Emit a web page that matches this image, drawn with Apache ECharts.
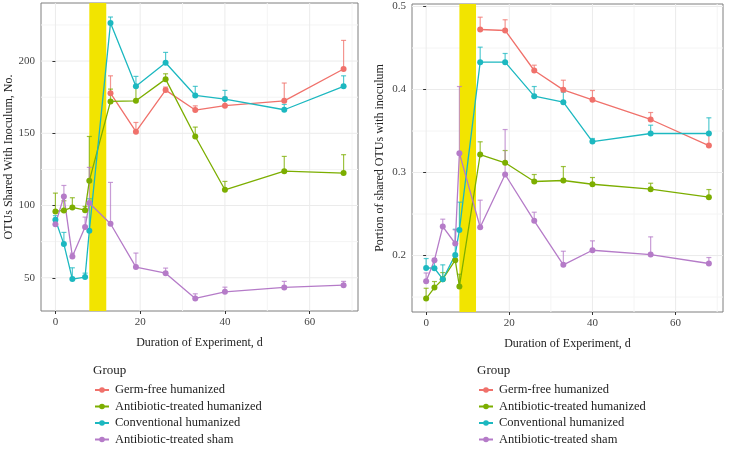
<!DOCTYPE html>
<html>
<head>
<meta charset="utf-8">
<script src="https://cdn.jsdelivr.net/npm/echarts@6/dist/echarts.min.js"></script>
<style>
html, body { margin: 0; padding: 0; background: #fff; }
#chart-dom { width: 733px; height: 454px; }
</style>
</head>
<body>
<div id="chart-dom"></div>
<script>
const days = [0, 2, 4, 7, 8, 13, 19, 26, 33, 40, 54, 68]
const groups = ['Germ-free humanized', 'Antibiotic-treated humanized', 'Conventional humanized', 'Antibiotic-treated sham']
const colors = ['#F0716B', '#7CAE00', '#1CB8C0', '#B57BC8']

// shared OTUs, count (mean and mean + SE)
const germFreeCount = [null, null, null, null, null, 177.8, 151.1, 179.9, 166.1, 169.1, 172.5, 194.5]
const germFreeCountTop = [null, null, null, null, null, 189.8, 157.5, 182, 169, 175, 184.8, 214.3]
const abxHumCount = [95.9, 96.6, 98.7, 96.8, 117.1, 172.1, 172.5, 187.5, 147.8, 110.9, 123.8, 122.5]
const abxHumCountTop = [108.6, 103.3, 105.4, 99.4, 147.8, 180.6, 182, 191.2, 154.3, 116.7, 134, 135.2]
const convCount = [90.2, 73.3, 49.1, 50.5, 82.5, 226.3, 182.5, 198.8, 176.2, 173.7, 166.3, 182.5]
const convCountTop = [93, 81.4, 56.9, 53.2, 104.7, 230.5, 189.4, 206, 182.5, 179.7, 170, 189.8]
const shamCount = [87.1, 106.3, 64.8, 85.1, 101.7, 87.4, 57.4, 53.2, 35.7, 40.3, 43.3, 44.9]
const shamCountTop = [90, 113.9, 67, 92, 126.4, 116, 67.1, 56.7, 38.9, 43.5, 47.5, 47.5]

// portion of shared OTUs
const germFreePortion = [null, null, null, null, null, 0.4723, 0.4711, 0.4229, 0.3996, 0.3876, 0.3639, 0.3325]
const germFreePortionTop = [null, null, null, null, null, 0.4871, 0.484, 0.4293, 0.4112, 0.3988, 0.3723, 0.3474]
const abxHumPortion = [0.1482, 0.1614, 0.1715, 0.1944, 0.1627, 0.3217, 0.3117, 0.2892, 0.2904, 0.2859, 0.2799, 0.2703]
const abxHumPortionTop = [0.1606, 0.1687, 0.1795, 0.1988, 0.1775, 0.337, 0.3265, 0.2976, 0.3072, 0.294, 0.2871, 0.2795]
const convPortion = [0.1851, 0.1847, 0.1715, 0.2008, 0.2309, 0.4329, 0.4329, 0.392, 0.3847, 0.3373, 0.347, 0.347]
const convPortionTop = [0.1964, 0.194, 0.1888, 0.2317, 0.2643, 0.451, 0.4434, 0.4036, 0.3968, 0.341, 0.357, 0.3659]
const shamPortion = [0.1691, 0.1944, 0.2349, 0.2145, 0.3233, 0.2341, 0.2976, 0.2418, 0.1888, 0.2064, 0.2012, 0.1904]
const shamPortionTop = [0.179, 0.1964, 0.2438, 0.231, 0.4036, 0.2667, 0.3518, 0.2522, 0.2052, 0.2177, 0.2225, 0.1976]

const inoculationWindow = [8, 12]
const xTicks = [0, 20, 40, 60]
const xMinorTicks = [10, 30, 50, 70]
const countTicks = [50, 100, 150, 200]
const countMinorTicks = [75, 125, 175, 225]
const portionTicks = [0.2, 0.3, 0.4, 0.5]
const portionMinorTicks = [0.15, 0.25, 0.35, 0.45]

const FONT = '"Liberation Serif", "DejaVu Serif", serif'
const xRange = [-3.4, 71.4]

const panels = [
  {
    grid: { left: 41, top: 3, width: 317, height: 308 },
    yRange: [27, 240.2],
    yTicks: countTicks,
    yMinor: countMinorTicks,
    yName: 'OTUs Shared With Inoculum, No.',
    means: [germFreeCount, abxHumCount, convCount, shamCount],
    tops: [germFreeCountTop, abxHumCountTop, convCountTop, shamCountTop],
    legendLeft: 94,
  },
  {
    grid: { left: 412, top: 4, width: 311, height: 308 },
    yRange: [0.132, 0.503],
    yTicks: portionTicks,
    yMinor: portionMinorTicks,
    yName: 'Portion of shared OTUs with inoculum',
    means: [germFreePortion, abxHumPortion, convPortion, shamPortion],
    tops: [germFreePortionTop, abxHumPortionTop, convPortionTop, shamPortionTop],
    legendLeft: 478,
  },
]

function gridLines(idx, panel, values, dim, color) {
  const data = values.map((v) => (dim === 'x' ? [v, panel.yRange[0]] : [xRange[0], v]))
  return {
    type: 'custom',
    xAxisIndex: idx,
    yAxisIndex: idx,
    silent: true,
    z: 0,
    data,
    renderItem(params, api) {
      const cs = params.coordSys
      const p = api.coord([api.value(0), api.value(1)])
      const shape = dim === 'x'
        ? { x1: p[0], y1: cs.y, x2: p[0], y2: cs.y + cs.height }
        : { x1: cs.x, y1: p[1], x2: cs.x + cs.width, y2: p[1] }
      return { type: 'line', shape, style: { stroke: color, lineWidth: 1 } }
    },
  }
}

function bandSeries(idx, panel) {
  return {
    type: 'custom',
    xAxisIndex: idx,
    yAxisIndex: idx,
    silent: true,
    z: 1,
    encode: { x: [0, 1], y: 2 },
    data: [[inoculationWindow[0], inoculationWindow[1], panel.yRange[0]]],
    renderItem(params, api) {
      const cs = params.coordSys
      const a = api.coord([api.value(0), api.value(2)])
      const b = api.coord([api.value(1), api.value(2)])
      return {
        type: 'rect',
        shape: { x: a[0], y: cs.y, width: b[0] - a[0], height: cs.height },
        style: { fill: '#F2E400' },
      }
    },
  }
}

function errorSeries(idx, means, tops, color) {
  const data = []
  days.forEach((d, i) => {
    if (means[i] != null) data.push([d, means[i], tops[i]])
  })
  return {
    type: 'custom',
    xAxisIndex: idx,
    yAxisIndex: idx,
    silent: true,
    z: 2,
    encode: { x: 0, y: [1, 2] },
    data,
    renderItem(params, api) {
      const a = api.coord([api.value(0), api.value(1)])
      const b = api.coord([api.value(0), api.value(2)])
      const style = { stroke: color, lineWidth: 1.2, opacity: 0.75 }
      return {
        type: 'group',
        children: [
          { type: 'line', shape: { x1: a[0], y1: a[1], x2: b[0], y2: b[1] }, style },
          { type: 'line', shape: { x1: b[0] - 2.5, y1: b[1], x2: b[0] + 2.5, y2: b[1] }, style },
        ],
      }
    },
  }
}

function lineSeries(idx, name, means, color) {
  const data = []
  days.forEach((d, i) => {
    if (means[i] != null) data.push([d, means[i]])
  })
  return {
    type: 'line',
    name,
    xAxisIndex: idx,
    yAxisIndex: idx,
    z: 3,
    data,
    symbol: 'circle',
    symbolSize: 6,
    itemStyle: { color },
    lineStyle: { color, width: 1.3 },
  }
}

const chartInstance = echarts.init(document.getElementById('chart-dom'))
let option

const series = []
panels.forEach((panel, idx) => {
  series.push(gridLines(idx, panel, xMinorTicks, 'x', '#F4F4F4'))
  series.push(gridLines(idx, panel, panel.yMinor, 'y', '#F4F4F4'))
  series.push(gridLines(idx, panel, xTicks, 'x', '#EBEBEB'))
  series.push(gridLines(idx, panel, panel.yTicks, 'y', '#EBEBEB'))
  series.push(bandSeries(idx, panel))
  groups.forEach((g, k) => {
    series.push(errorSeries(idx, panel.means[k], panel.tops[k], colors[k]))
  })
  groups.forEach((g, k) => {
    series.push(lineSeries(idx, g, panel.means[k], colors[k]))
  })
})

const tickLabel = { color: '#444', fontFamily: FONT, fontSize: 11 }

option = {
  animation: false,
  backgroundColor: '#fff',
  textStyle: { fontFamily: FONT },
  title: panels.map((p) => ({
    text: 'Group',
    left: p.legendLeft - 1,
    top: 364,
    padding: 0,
    textStyle: { fontFamily: FONT, fontSize: 13, fontWeight: 'normal', color: '#222' },
  })),
  legend: panels.map((p) => ({
    data: groups,
    orient: 'vertical',
    left: p.legendLeft,
    top: 383,
    height: 70,
    padding: 0,
    itemWidth: 14,
    itemHeight: 7,
    itemGap: 2.5,
    selectedMode: false,
    textStyle: { fontFamily: FONT, fontSize: 12.5, lineHeight: 14, color: '#222', padding: [0, 0, 0, 1] },
  })),
  grid: panels.map((p) => ({
    ...p.grid,
    show: true,
    backgroundColor: '#fff',
    borderColor: '#7F7F7F',
    borderWidth: 1,
  })),
  xAxis: panels.map((p, idx) => ({
    type: 'value',
    gridIndex: idx,
    min: xRange[0],
    max: xRange[1],
    splitLine: { show: false },
    axisLine: { show: false },
    axisTick: { customValues: xTicks, length: 3, lineStyle: { color: '#333' } },
    axisLabel: { ...tickLabel, customValues: xTicks, margin: 6 },
    name: 'Duration of Experiment, d',
    nameLocation: 'middle',
    nameGap: 26,
    nameTextStyle: { fontFamily: FONT, fontSize: 12, color: '#222' },
  })),
  yAxis: panels.map((p, idx) => ({
    type: 'value',
    gridIndex: idx,
    min: p.yRange[0],
    max: p.yRange[1],
    splitLine: { show: false },
    axisLine: { show: false },
    axisTick: { customValues: p.yTicks, length: 3, lineStyle: { color: '#333' } },
    axisLabel: { ...tickLabel, customValues: p.yTicks, margin: 6 },
    name: p.yName,
    nameLocation: 'middle',
    nameGap: idx === 0 ? 24 : 26,
    nameTextStyle: { fontFamily: FONT, fontSize: 12, color: '#222' },
  })),
  series,
}

option && chartInstance.setOption(option)
</script>
</body>
</html>
